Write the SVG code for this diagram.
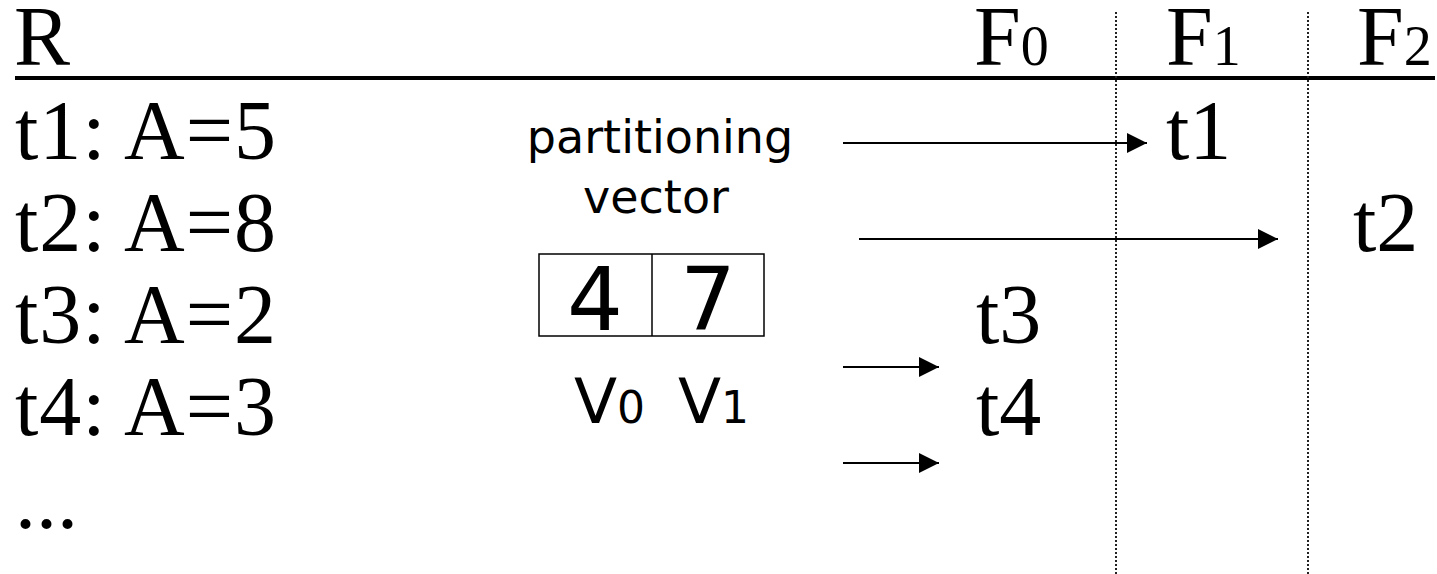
<svg xmlns="http://www.w3.org/2000/svg" width="1437" height="574" viewBox="0 0 1437 574">
<style>
.serif{font-family:"Liberation Serif","Times New Roman",serif;fill:#000}
.big{font-size:84px}
.row{letter-spacing:1px}
.sub{font-size:56px}
.sans{font-family:"DejaVu Sans",Verdana,sans-serif;fill:#000}
.conn{stroke:#000;stroke-width:2;fill:none}
.dot{stroke:#222;stroke-width:2;stroke-dasharray:2 2;fill:none}
</style>
<defs>
<marker id="ah" markerUnits="userSpaceOnUse" markerWidth="20" markerHeight="20" refX="20" refY="10" orient="auto">
<path d="M0,0 L20,10 L0,20 Z" fill="#000"/>
</marker>
</defs>
<rect x="0" y="0" width="1437" height="574" fill="#fff"/>
<g id="header">
<text class="serif big" x="14" y="65">R</text>
<text class="serif big" x="974" y="65">F<tspan class="sub">0</tspan></text>
<text class="serif big" x="1166" y="65">F<tspan class="sub">1</tspan></text>
<text class="serif big" x="1357" y="65">F<tspan class="sub">2</tspan></text>
<rect x="15" y="76" width="1420" height="4" fill="#000"/>
</g>
<g id="dividers">
<line class="dot" x1="1116" y1="12" x2="1116" y2="574"/>
<line class="dot" x1="1308" y1="12" x2="1308" y2="574"/>
</g>
<g id="tuples">
<text class="serif big row" x="15" y="159">t1: A=5</text>
<text class="serif big row" x="15" y="251">t2: A=8</text>
<text class="serif big row" x="15" y="343">t3: A=2</text>
<text class="serif big row" x="15" y="435">t4: A=3</text>
<text class="serif big" x="15" y="528">...</text>
</g>
<g id="vector">
<text class="sans" font-size="46" x="660" y="153" text-anchor="middle">partitioning</text>
<text class="sans" font-size="46" x="656" y="213" text-anchor="middle">vector</text>
<rect x="539" y="254" width="225" height="82" fill="none" stroke="#000" stroke-width="1.5"/>
<line x1="652" y1="254" x2="652" y2="336" stroke="#000" stroke-width="1.5"/>
<text class="sans" font-size="88" x="595" y="330" text-anchor="middle">4</text>
<text class="sans" font-size="88" x="708" y="330" text-anchor="middle">7</text>
<text class="sans" font-size="63" x="574" y="423">V<tspan font-size="44">0</tspan></text>
<text class="sans" font-size="63" x="678" y="423">V<tspan font-size="44">1</tspan></text>
</g>
<g id="partitions">
<text class="serif big" x="1166" y="159">t1</text>
<text class="serif big" x="1353" y="251">t2</text>
<text class="serif big" x="976" y="343">t3</text>
<text class="serif big" x="976" y="435">t4</text>
</g>
<g id="connectors">
<line class="conn" x1="843" y1="143" x2="1147" y2="143" marker-end="url(#ah)"/>
<line class="conn" x1="859" y1="239" x2="1278" y2="239" marker-end="url(#ah)"/>
<line class="conn" x1="843" y1="367" x2="939" y2="367" marker-end="url(#ah)"/>
<line class="conn" x1="843" y1="463" x2="939" y2="463" marker-end="url(#ah)"/>
</g>
</svg>
